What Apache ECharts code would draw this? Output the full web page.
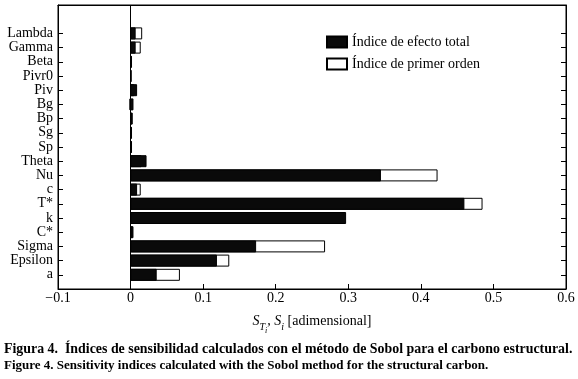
<!DOCTYPE html>
<html>
<head>
<meta charset="utf-8">
<script src="https://cdn.jsdelivr.net/npm/echarts@6/dist/echarts.min.js"></script>
<style>
html,body{margin:0;padding:0;background:#fff;}
#c{width:578px;height:379px;}
</style>
</head>
<body>
<div id="c"></div>
<script>
// categories from bottom to top
const categories = ['a','Epsilon','Sigma','C*','k','T*','c','Nu','Theta','Sp','Sg','Bp','Bg','Piv','Pivr0','Beta','Gamma','Lambda'];
// Índice de efecto total (black bars)
const totalIdx = [0.036,0.119,0.173,0.004,0.297,0.460,0.009,0.345,0.022,0.002,0.002,0.003,0.004,0.009,0.001,0.002,0.007,0.007];
// Índice de primer orden (white bars)
const firstIdx = [0.068,0.136,0.268,0.002,0.279,0.485,0.014,0.423,0.015,0.001,0.001,0.002,-0.0015,0.005,0.0005,0.001,0.014,0.016];
const xTicks = [-0.1,0,0.1,0.2,0.3,0.4,0.5,0.6];

const FONT = 'Liberation Serif';
const axisData = [''].concat(categories, ['', '']);
const pad = arr => [null].concat(arr, [null, null]);
const tickFn = (i, v) => v !== '';

const chart = echarts.init(document.getElementById('c'), null, {renderer: 'canvas'});
chart.setOption({
  animation: false,
  backgroundColor: '#fff',
  textStyle: {fontFamily: FONT, color: '#000'},
  grid: {left: 58, right: 12, top: 5, bottom: 90, show: true, borderColor: '#000', borderWidth: 1, backgroundColor: 'transparent'},
  legend: {
    orient: 'vertical', left: 321, top: 30, itemWidth: 20, itemHeight: 11, itemGap: 8,
    icon: 'rect',
    data: ['Índice de efecto total', 'Índice de primer orden'],
    textStyle: {fontFamily: FONT, fontSize: 14, color: '#000'}
  },
  xAxis: [{
    type: 'value', min: xTicks[0], max: xTicks[xTicks.length - 1], interval: 0.1,
    axisLine: {show: true, onZero: false, lineStyle: {color: '#000', width: 1}},
    axisTick: {show: true, inside: true, length: 5, lineStyle: {color: '#000'}},
    splitLine: {show: false},
    axisLabel: {color: '#000', fontFamily: FONT, fontSize: 14, margin: 2,
      formatter: v => { const r = Math.round(v * 10) / 10; return (r < 0 ? '\u2212' + Math.abs(r) : String(r)); }},
    name: '{s|S}{sub|T}{ss|i}{s|, S}{sub|i}{t| [adimensional]}',
    nameLocation: 'middle', nameGap: 21,
    nameTextStyle: {
      rich: {
        s: {fontFamily: FONT, fontStyle: 'italic', fontSize: 14, color: '#000', verticalAlign: 'bottom', lineHeight: 18},
        sub: {fontFamily: FONT, fontStyle: 'italic', fontSize: 10, color: '#000', verticalAlign: 'bottom', lineHeight: 12, padding: [0, 0, -4, 0]},
        ss: {fontFamily: FONT, fontStyle: 'italic', fontSize: 8, color: '#000', verticalAlign: 'bottom', lineHeight: 10, padding: [0, 0, -7, 0]},
        t: {fontFamily: FONT, fontSize: 14, color: '#000', verticalAlign: 'bottom', lineHeight: 18}
      }
    }
  }, {
    type: 'value', position: 'top', min: xTicks[0], max: xTicks[xTicks.length - 1], interval: 0.1,
    axisLine: {show: true, onZero: false, lineStyle: {color: '#000'}},
    axisTick: {show: false}, axisLabel: {show: false}, splitLine: {show: false}
  }],
  yAxis: [{
    type: 'category', data: axisData, boundaryGap: false,
    axisLine: {show: true, onZero: false, lineStyle: {color: '#000'}},
    axisTick: {show: true, inside: true, length: 5, interval: tickFn, lineStyle: {color: '#000'}},
    axisLabel: {color: '#000', fontFamily: FONT, fontSize: 14, margin: 5, interval: 0},
    splitLine: {show: false}
  }, {
    type: 'category', data: axisData, boundaryGap: false, position: 'right',
    axisLine: {show: true, onZero: false, lineStyle: {color: '#000'}},
    axisTick: {show: true, inside: true, length: 5, interval: tickFn, lineStyle: {color: '#000'}},
    axisLabel: {show: false}, splitLine: {show: false}
  }],
  series: [{
    name: 'Índice de primer orden', type: 'bar', data: pad(firstIdx), barWidth: 12, barGap: '-100%',
    itemStyle: {color: '#fff', borderColor: '#000', borderWidth: 1},
    markLine: {silent: true, symbol: 'none', label: {show: false},
      lineStyle: {color: '#000', width: 1, type: 'solid'}, data: [{xAxis: 0}]}
  }, {
    name: 'Índice de efecto total', type: 'bar', data: pad(totalIdx), barWidth: 12, barGap: '-100%',
    itemStyle: {color: '#0a0a0a', borderColor: '#000', borderWidth: 1}
  }],
  graphic: [{
    type: 'text', left: 4, top: 342,
    style: {text: 'Figura 4.  Índices de sensibilidad calculados con el método de Sobol para el carbono estructural.',
      font: 'bold 13.9px "Liberation Serif"', fill: '#000'}
  }, {
    type: 'text', left: 4, top: 359,
    style: {text: 'Figure 4. Sensitivity indices calculated with the Sobol method for the structural carbon.',
      font: 'bold 13px "Liberation Serif"', fill: '#000'}
  }]
});
</script>
</body>
</html>
